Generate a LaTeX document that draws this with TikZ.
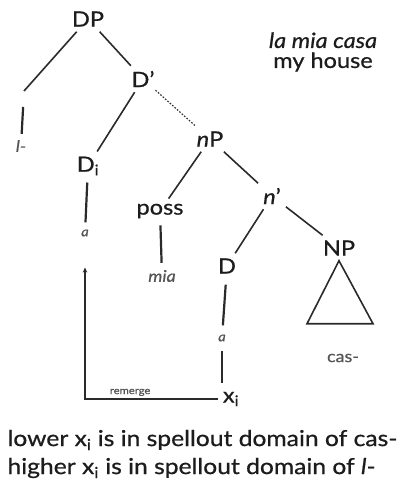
\documentclass[tikz,border=0pt]{standalone}
\usepackage{fontspec}
\setmainfont{Lato}[FakeStretch=1.12, FakeBold=0.7]
\usepackage{xcolor}
\usepackage{tikz}
\usetikzlibrary{arrows.meta,positioning}
\definecolor{ink}{HTML}{1C1C1C}
\definecolor{lncol}{HTML}{2A2A2A}
\definecolor{muted}{HTML}{555555}
\tikzset{
  lbl/.style={text=ink, font=\fontsize{21}{24}\selectfont, inner sep=5pt},
  leaf/.style={text=muted, font=\fontsize{16}{18}\itshape, inner sep=3pt},
  br/.style={draw=lncol, line width=1.6pt},
  dots/.style={draw=lncol, line width=1.2pt, dash pattern=on 1.6pt off 1.6pt},
  bar/.style={draw=lncol, line width=2.2pt},
  gloss/.style={text=ink, font=\fontsize{21}{23}\selectfont, align=center},
}

\begin{document}
\begin{tikzpicture}[x=1pt, y=-1pt]
\useasboundingbox (0,0) rectangle (406,484);
% tree labels
\node[lbl] (dp) at (88,19) {DP};
\node[lbl] (dbar) at (143,79) {D'};
\node[lbl] (np) at (210,139) {\textit{n}P};
\node[lbl] (di) at (88,166) {D\textsubscript{i}};
\node[lbl] (poss) at (160,211) {poss};
\node[lbl] (nbar) at (272,196) {\textit{n}'};
\node[lbl] (d) at (227,266) {D};
\node[lbl] (bigNP) at (339,248) {NP};
\node[lbl] (xi) at (231,399) {x\textsubscript{i}};
\coordinate (spec) at (24,91);
% terminals
\node[leaf] (lsp) at (21,146) {l-};
\node[leaf, font=\fontsize{13}{15}\itshape] (a1) at (85,233) {a};
\node[leaf] (mia) at (162,276) {mia};
\node[leaf, font=\fontsize{13}{15}\itshape] (a2) at (222,338) {a};
\node[leaf, font=\fontsize{16}{18}\selectfont] (cas) at (343,358) {cas-};
% gloss
\node[gloss] (it) at (323,52) {\textit{la mia casa}\\[-3pt]my house};

% branches
\draw[br] (dp) -- (spec);
\draw[br] (dp) -- (dbar);
\draw[br] (dbar) -- (di);
\draw[dots, shorten <=-3pt] (dbar) -- (np);
\draw[br] (np) -- (poss);
\draw[br] (np) -- (nbar);
\draw[br] (nbar) -- (d);
\draw[br] (nbar) -- (bigNP);
\draw[br] (bigNP.south) -- ++(-32,63) -- ++(66,0) -- cycle;

% heads to terminals
\draw[bar, shorten <=16pt, shorten >=3pt] (spec) -- (lsp);
\draw[bar, shorten <=2pt, shorten >=4pt] (di) -- (a1);
\draw[bar, shorten <=2pt, shorten >=4pt] (poss) -- (mia);
\draw[bar, shorten <=6pt, shorten >=6pt] (d) -- (a2);
\draw[bar, shorten <=6pt, shorten >=4pt] (a2) -- (a2 |- xi.north);

% remerge path
\draw[draw=lncol, line width=1.6pt, -{Stealth[length=5pt,width=4.5pt]}, shorten >=28pt]
  (xi.west) -| node[pos=0.33, above=-1pt, font=\fontsize{10}{11}\selectfont, text=muted] {remerge} (a1);

% note
\node[anchor=west, align=left, text=ink, font=\fontsize{22}{28}\selectfont] (note) at (4,454)
  {lower x\textsubscript{i} is in spellout domain of cas-\\higher x\textsubscript{i} is in spellout domain of \textit{l}-};
\end{tikzpicture}
\end{document}
